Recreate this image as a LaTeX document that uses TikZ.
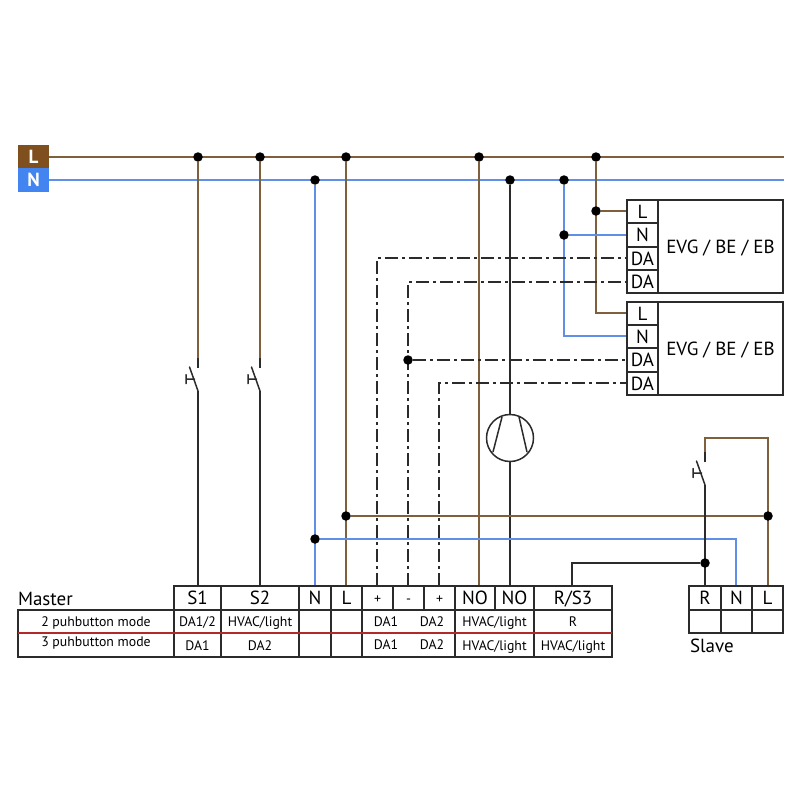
\documentclass[tikz,border=0pt]{standalone}
\usepackage{fontspec}
\setmainfont{PT Sans}
\usetikzlibrary{backgrounds}
\definecolor{wbrown}{HTML}{80603C}
\definecolor{wblue}{HTML}{5F8FE6}
\definecolor{wblack}{HTML}{2B2B2B}
\definecolor{boxbrown}{HTML}{7F4F1E}
\definecolor{boxblue}{HTML}{4285F0}
\definecolor{redline}{HTML}{B02A2A}
\tikzset{
  gridbox/.style={draw=wblack,line width=1.5pt,rectangle,inner sep=0pt,outer sep=0pt,text depth=0pt,align=center},
  big/.style={font=\fontsize{19}{19}\selectfont,text height=13pt},
  small/.style={font=\fontsize{13.8}{13.8}\selectfont,text height=10pt},
  plain/.style={inner sep=0pt,outer sep=0pt,text=black},
  bus/.style={rectangle,inner sep=0pt,outer sep=0pt,minimum width=31pt,text=white,text height=13pt,text depth=0pt,font=\fontsize{19}{19}\selectfont\bfseries},
  jdot/.style={circle,fill=black,inner sep=0pt,outer sep=0pt,minimum size=9.5pt},
  bw/.style={draw=wbrown,line width=1.5pt},
  lw/.style={draw=wblue,line width=1.5pt},
  kw/.style={draw=wblack,line width=1.5pt},
  daw/.style={draw=wblack,line width=1.5pt,dash pattern=on 13pt off 4pt on 3pt off 4pt},
  sym/.style={draw=wblack,line width=1.5pt},
}
% name, x1, x2, y1, y2, style, text
\newcommand\gridcell[7]{\node[gridbox,#6,minimum width={(#3)-(#2)},minimum height={(#5)-(#4)}] (#1) at ({((#2)+(#3))/2},{((#4)+(#5))/2}) {#7};}
% name, x, y of the top of the blade gap
\newcommand\swtch[3]{%
  \coordinate (#1t) at (#2,{#3-10});
  \coordinate (#1m) at (#2,#3);
  \coordinate (#1b) at (#2,{#3+23});
  \coordinate (#1a) at ({#2-8.5},{#3-1});
  \coordinate (#1p) at ({#2-3.5},{#3+11});
  \coordinate (#1h) at ({#2-12},{#3+11});
  \coordinate (#1u) at ({#2-12},{#3+6.5});
  \coordinate (#1d) at ({#2-12},{#3+15.5});
  \draw[sym,line cap=round] (#1a) -- (#1b) (#1p) -- (#1h) (#1u) -- (#1d);
}
\begin{document}
\begin{tikzpicture}[x=1pt,y=-1pt]
\useasboundingbox (0,0) rectangle (800,800);
% supply
\node[bus,fill=boxbrown,minimum height=23pt] (busL) at (33.5,156.5) {L};
\node[bus,fill=boxblue,minimum height=24pt] (busN) at (33.5,180) {N};
\coordinate (busLend) at (784,157);
\coordinate (busNend) at (784,180);
% master table
\node[plain,big,text height=,anchor=base west] (master) at (18,605) {Master};
\gridcell{S1}{174}{221}{586}{610}{big}{S1}
\gridcell{S2}{221}{299}{586}{610}{big}{S2}
\gridcell{mN}{299}{331}{586}{610}{big}{N}
\gridcell{mL}{331}{362}{586}{610}{big}{L}
\gridcell{pA}{362}{393}{586}{610}{small}{+}
\gridcell{mM}{393}{424}{586}{610}{small}{-}
\gridcell{pB}{424}{455}{586}{610}{small}{+}
\gridcell{NOa}{455}{495}{586}{610}{big}{NO}
\gridcell{NOb}{495}{534}{586}{610}{big}{NO}
\gridcell{RS}{534}{612}{586}{610}{big}{R/S3}
% rows
\gridcell{modeA}{18}{174}{610}{633}{small}{}
\gridcell{modeB}{18}{174}{633}{657}{small}{}
\node[plain,small] (modeAt) at (96,623) {2 puhbutton mode};
\node[plain,small] (modeBt) at (96,643) {3 puhbutton mode};
\gridcell{a1}{174}{221}{610}{633}{small}{DA1/2}
\gridcell{a2}{221}{299}{610}{633}{small}{HVAC/light}
\gridcell{a3}{299}{331}{610}{633}{small}{}
\gridcell{a4}{331}{362}{610}{633}{small}{}
\gridcell{a5}{362}{455}{610}{633}{small}{}
\gridcell{a6}{455}{534}{610}{633}{small}{HVAC/light}
\gridcell{a7}{534}{612}{610}{633}{small}{R}
\gridcell{b1}{174}{221}{633}{657}{small}{DA1}
\gridcell{b2}{221}{299}{633}{657}{small}{DA2}
\gridcell{b3}{299}{331}{633}{657}{small}{}
\gridcell{b4}{331}{362}{633}{657}{small}{}
\gridcell{b5}{362}{455}{633}{657}{small}{}
\gridcell{b6}{455}{534}{633}{657}{small}{HVAC/light}
\gridcell{b7}{534}{612}{633}{657}{small}{HVAC/light}
\node[plain,small] (a5l) at (386,622) {DA1};
\node[plain,small] (a5r) at (432,622) {DA2};
\node[plain,small] (b5l) at (386,645) {DA1};
\node[plain,small] (b5r) at (432,645) {DA2};
\draw[draw=redline,line width=1.5pt] (modeA.south west) -- (a7.south east);
% slave table
\gridcell{sR}{689}{721}{586}{610}{big}{R}
\gridcell{sN}{721}{752}{586}{610}{big}{N}
\gridcell{sL}{752}{783}{586}{610}{big}{L}
\gridcell{s1}{689}{721}{610}{633}{big}{}
\gridcell{s2}{721}{752}{610}{633}{big}{}
\gridcell{s3}{752}{783}{610}{633}{big}{}
\node[plain,big,text height=,anchor=base west] (slave) at (690,652) {Slave};
% ballasts
\gridcell{eA}{658}{783}{200}{293}{big}{EVG / BE / EB}
\gridcell{eAL}{627}{658}{200}{223}{big}{L}
\gridcell{eAN}{627}{658}{223}{247}{big}{N}
\gridcell{eAD}{627}{658}{247}{270}{big}{DA}
\gridcell{eAE}{627}{658}{270}{293}{big}{DA}
\gridcell{eB}{658}{783}{302}{395}{big}{EVG / BE / EB}
\gridcell{eBL}{627}{658}{302}{325}{big}{L}
\gridcell{eBN}{627}{658}{325}{348}{big}{N}
\gridcell{eBD}{627}{658}{348}{372}{big}{DA}
\gridcell{eBE}{627}{658}{372}{395}{big}{DA}
% junctions
\node[jdot] (dS1) at (198,157) {};
\node[jdot] (dS2) at (260,157) {};
\node[jdot] (dL) at (346,157) {};
\node[jdot] (dNOa) at (479,157) {};
\node[jdot] (dEL) at (596,157) {};
\node[jdot] (dN) at (315,180) {};
\node[jdot] (dNOb) at (510,180) {};
\node[jdot] (dEN) at (564,180) {};
\node[jdot] (dEAL) at (596,211) {};
\node[jdot] (dEAN) at (564,235) {};
\node[jdot] (dDA) at (408,360) {};
\node[jdot] (dLs) at (346,516) {};
\node[jdot] (dLr) at (768,516) {};
\node[jdot] (dNs) at (315,539) {};
\node[jdot] (dR) at (705,563) {};
% lamp
\node[circle,draw=wblack,line width=1.5pt,minimum size=47pt,inner sep=0pt,outer sep=0pt] (lamp) at (510,438) {};
\draw[sym] (502,417) -- (493,452) (519,417) -- (527,452);
% switches
\swtch{swA}{198}{368}
\swtch{swB}{260}{368}
\swtch{swC}{705}{462}
% wire corners
\coordinate (loopA) at (705,438);
\coordinate (loopB) at (768,438);
\coordinate (cBL) at (596,313);
\coordinate (cBN) at (564,336);
\coordinate (cAD) at (377,258);
\coordinate (cAE) at (408,282);
\coordinate (cBE) at (439,383);
\coordinate (cNr) at (736,539);
\coordinate (cRS) at (572,563);
\begin{scope}[on background layer]
  \draw[bw] (busL.east |- busLend) -- (busLend);
  \draw[lw] (busN.east |- busNend) -- (busNend);
  % S1, S2
  \draw[bw] (dS1) -- (swAt);
  \draw[bw] (dS2) -- (swBt);
  \draw[kw] (swAt) -- (swAm);
  \draw[kw] (swBt) -- (swBm);
  \draw[kw] (swAb) -- (swAb |- S1.north);
  \draw[kw] (swBb) -- (swBb |- S2.north);
  % master N, L
  \draw[lw] (dN) -- (dN |- mN.north);
  \draw[bw] (dL) -- (dL |- mL.north);
  \draw[bw] (dNOa) -- (dNOa |- NOa.north);
  \draw[kw] (dNOb) -- (lamp.north);
  \draw[kw] (lamp.south) -- (lamp.south |- NOb.north);
  % ballast power
  \draw[bw] (dEL) |- (cBL -| eBL.west);
  \draw[bw] (dEAL) -- (dEAL -| eAL.west);
  \draw[lw] (dEN) |- (cBN -| eBN.west);
  \draw[lw] (dEAN) -- (dEAN -| eAN.west);
  % DALI
  \draw[daw] (cAD |- pA.north) -- (cAD) -- (cAD -| eAD.west);
  \draw[daw] (cAE |- mM.north) -- (cAE) -- (cAE -| eAE.west);
  \draw[daw] (dDA) -- (dDA -| eBD.west);
  \draw[daw] (cBE |- pB.north) -- (cBE) -- (cBE -| eBE.west);
  % slave
  \draw[bw] (dLs) -- (dLr);
  \draw[bw] (loopB |- sL.north) -- (loopB) -- (loopA) -- (swCt);
  \draw[lw] (dNs) -- (cNr) -- (cNr |- sN.north);
  \draw[kw] (swCt) -- (swCm);
  \draw[kw] (swCb) -- (swCb |- sR.north);
  \draw[kw] (dR) -- (cRS) -- (cRS |- RS.north);
\end{scope}
\end{tikzpicture}
\end{document}
